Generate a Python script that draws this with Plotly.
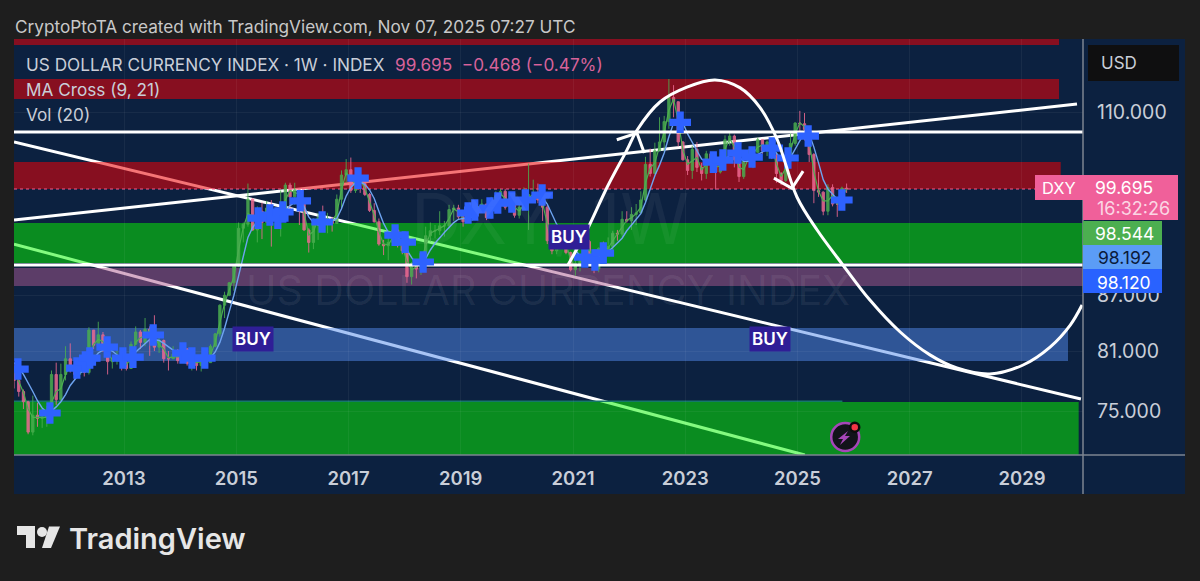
import math
import plotly.graph_objects as go

# ---------- data ----------
years = list(range(2011, 2026))
highs = [
 79.8,78.3,77.1,76.0,76.5,75.8,75.2,75.5,79.0,79.8,79.7,81.5,
 81.8,79.5,80.6,79.9,83.5,83.0,84.1,83.0,81.5,80.4,81.5,80.8,
 80.3,82.0,83.6,83.2,84.5,83.6,84.8,82.5,82.2,81.0,81.5,81.2,
 81.5,81.3,80.6,80.5,80.7,81.0,81.7,82.9,86.0,87.4,88.5,90.5,
 95.5,95.5,100.4,98.5,97.5,98.0,98.2,98.3,96.7,99.5,100.5,100.5,
 100.5,99.8,98.5,94.8,96.0,96.7,97.6,96.7,96.2,99.0,102.1,103.6,
 103.8,102.2,102.3,100.9,99.2,97.9,96.0,93.4,93.7,95.1,95.1,94.0,
 92.3,90.8,91.1,91.9,95.0,95.5,95.2,96.9,95.7,97.7,97.7,97.7,
 96.9,97.2,97.7,98.3,98.4,97.8,98.7,99.4,99.7,99.7,98.5,98.5,
 98.2,99.9,103.0,100.9,100.4,97.8,97.7,93.9,94.7,94.7,94.3,92.0,
 91.6,91.4,93.4,93.4,90.9,92.5,93.2,93.7,94.5,94.6,96.9,96.9,
 97.4,97.8,99.4,103.9,105.0,105.8,109.3,109.5,114.8,113.9,111.2,106.0,
 104.0,105.4,105.9,103.1,104.7,104.5,102.8,104.4,106.8,107.3,106.9,104.3,
 103.8,104.9,104.7,106.5,105.8,106.1,105.0,104.4,101.9,104.6,107.1,108.6,
 110.2,109.9,107.4,104.4,101.9,99.4,100.3,100.3,98.7,100.0,100.4]
lows = [
 77.2,76.4,75.2,72.8,72.7,73.5,73.4,73.5,74.0,75.6,76.0,78.0,
 78.8,78.1,78.8,78.4,78.6,81.2,81.6,80.9,78.6,79.2,79.6,79.0,
 79.0,79.3,81.7,81.2,81.5,80.5,81.0,80.8,79.8,79.0,80.2,79.7,
 79.9,79.5,79.0,79.0,78.9,80.0,80.0,81.4,82.5,84.5,86.9,87.5,
 90.2,93.1,95.0,94.5,93.1,93.5,95.5,92.6,95.0,93.8,96.9,97.0,
 97.7,95.2,94.5,91.9,92.3,93.4,95.3,94.2,94.4,95.4,97.2,100.5,
 99.2,99.2,99.2,98.8,96.8,95.5,92.7,91.6,91.0,92.7,92.5,91.7,
 88.4,88.2,88.9,89.3,91.7,93.2,93.6,94.0,93.8,94.8,95.7,95.8,
 95.0,95.5,95.7,96.7,97.0,95.8,96.0,97.2,98.0,97.1,97.1,96.1,
 96.0,97.8,94.6,98.8,97.9,95.7,92.9,91.7,91.7,92.5,91.7,89.7,
 89.2,89.7,90.6,90.9,89.5,89.6,91.8,92.0,91.9,93.3,93.8,95.5,
 94.6,95.2,97.0,98.0,101.3,101.6,104.7,104.6,107.7,109.3,105.3,103.4,
 101.5,101.0,101.9,100.8,101.0,101.9,99.6,101.7,103.3,105.4,102.5,100.6,
 101.0,103.4,102.4,104.5,104.3,104.0,103.6,100.5,100.2,100.6,103.4,105.4,
 107.2,106.1,103.2,97.9,98.7,96.4,96.4,97.5,96.2,97.5,99.2]
closes = [
 78.0,76.9,75.9,73.0,74.6,74.3,74.4,74.6,78.6,76.1,78.6,80.2,
 79.3,78.6,79.0,78.8,83.2,81.6,82.7,81.2,79.9,80.1,80.1,79.8,
 79.2,81.7,83.0,81.9,83.3,83.1,81.4,82.1,80.2,80.2,80.7,80.0,
 81.2,79.7,80.1,79.5,80.4,79.8,81.5,82.8,85.9,87.0,88.4,90.3,
 94.8,95.3,98.4,94.6,96.9,95.5,97.3,96.0,96.3,97.0,100.2,98.7,
 99.6,98.2,94.6,93.1,95.9,96.1,95.5,96.0,95.4,98.4,101.5,102.2,
 99.5,101.1,100.4,99.0,97.0,95.6,92.9,92.7,93.1,94.6,93.0,92.1,
 89.1,90.6,89.97,91.8,93.9,94.5,94.5,95.1,95.1,97.1,97.3,96.2,
 95.6,96.2,97.3,97.5,97.8,96.1,98.5,98.9,99.4,97.4,98.3,96.4,
 97.4,98.1,99.0,99.0,98.3,97.4,93.3,92.1,93.9,94.0,91.9,89.9,
 90.6,90.9,93.2,91.3,90.0,92.4,92.2,92.6,94.2,94.1,95.9,95.7,
 96.5,96.7,98.3,102.9,101.7,104.7,105.9,108.7,112.1,111.5,105.9,103.5,
 102.1,104.9,102.5,101.7,104.3,102.9,101.9,103.6,106.2,106.7,103.5,101.3,
 103.3,104.2,104.5,106.2,104.7,105.9,104.1,101.7,100.8,104.0,105.7,108.5,
 108.4,107.6,104.2,99.5,99.3,96.9,99.9,97.8,97.8,99.8,99.695]
first_open = 79.4
ma_fast = [
 79.0,77.8,76.8,75.2,74.4,74.4,74.4,74.4,75.8,76.9,77.2,78.6,
 79.5,79.3,78.9,78.9,80.0,81.7,82.2,82.0,80.8,80.1,80.0,80.0,
 79.6,80.2,81.9,82.4,82.6,83.2,82.4,81.7,81.2,80.3,80.4,80.4,
 80.5,80.6,80.0,79.8,79.9,80.1,80.6,81.9,84.0,86.1,87.6,89.1,
 92.2,94.9,96.6,96.3,95.8,96.2,96.5,96.5,96.1,96.5,98.3,99.5,
 99.2,99.0,96.7,94.0,94.4,95.9,95.9,95.7,95.7,96.6,99.6,101.8,
 101.1,100.3,100.8,99.8,98.1,96.4,94.4,92.9,92.8,93.7,93.9,92.7,
 90.8,89.9,90.2,90.8,92.7,94.2,94.5,94.8,95.1,96.0,97.2,96.8,
 96.0,95.9,96.7,97.4,97.6,97.0,97.2,98.6,99.1,98.5,97.8,97.4,
 96.9,97.7,98.6,99.0,98.7,97.9,95.5,92.8,92.9,93.9,93.0,91.0,
 90.2,90.7,91.9,92.3,90.8,91.1,92.3,92.4,93.3,94.1,95.0,95.8,
 96.1,96.6,97.4,100.5,102.4,103.1,105.3,107.2,110.3,111.9,108.8,104.8,
 102.9,103.4,103.8,102.2,102.9,103.6,102.5,102.7,104.9,106.4,105.2,102.5,
 102.2,103.7,104.3,105.2,105.5,105.2,105.2,103.0,101.3,102.4,104.7,107.0,
 108.5,108.0,106.0,101.9,99.4,98.2,98.2,98.9,97.8,98.6,99.7]
ma_slow = [
 79.8,79.3,78.6,77.8,76.9,76.0,75.3,74.9,75.0,75.4,75.9,76.6,
 77.5,78.1,78.7,79.0,79.7,80.2,80.8,81.1,81.2,81.0,80.6,80.2,
 80.0,80.3,80.9,81.3,81.8,82.2,82.2,82.1,81.8,81.4,81.1,80.8,
 80.7,80.6,80.4,80.3,80.2,80.1,80.3,80.9,81.9,83.4,85.2,87.0,
 89.2,91.6,93.7,94.9,95.6,95.8,96.0,96.2,96.2,96.3,96.9,97.6,
 98.0,98.2,97.5,96.2,95.5,95.2,95.5,95.7,95.7,96.0,97.2,98.8,
 99.9,100.5,100.6,100.3,99.6,98.5,96.9,95.4,94.3,93.8,93.6,93.2,
 92.2,91.3,90.6,90.5,91.2,92.2,93.0,93.7,94.3,94.9,95.5,95.9,
 96.0,96.0,96.2,96.6,97.0,97.1,97.3,97.7,98.1,98.3,98.3,98.1,
 97.9,97.8,98.2,98.6,98.7,98.6,97.8,96.5,95.3,94.6,94.0,93.2,
 92.2,91.5,91.3,91.5,91.5,91.3,91.6,92.0,92.5,93.0,93.6,94.5,
 95.2,95.8,96.6,98.0,99.8,101.4,102.8,104.4,106.6,108.5,109.1,108.5,
 107.0,105.8,104.8,103.6,103.2,103.2,103.0,102.9,103.4,104.2,104.4,103.9,
 103.3,103.3,103.6,104.2,104.6,104.9,105.0,104.4,103.5,103.2,103.8,104.9,
 106.2,107.2,107.0,105.2,103.1,100.9,99.7,99.0,98.4,98.2,98.1]

cross_years = [2011.11,2011.68,2012.16,2012.31,2012.39,2012.70,2012.98,2013.16,2013.52,2014.05,2014.21,2014.44,
 2015.39,2015.60,2015.74,2015.83,2016.14,2016.53,2017.17,2017.83,2018.01,2018.33,2019.13,2019.25,2019.52,2019.66,
 2019.91,2020.15,2020.45,2021.21,2021.39,2021.54,2022.91,2023.50,2023.67,2023.94,2024.19,2024.55,2024.83,2025.19,2025.79]
cross_prices = [79.15,74.81,79.25,79.86,80.27,81.41,80.27,80.37,82.68,80.79,80.27,80.27,
 96.05,96.43,96.05,96.8,98.2,95.57,101.1,93.98,93.14,90.79,96.68,97.05,97.3,97.92,
 98.05,98.3,98.93,91.37,91.02,91.84,108.6,103.2,103.47,104.4,103.87,105.07,103.74,106.7,98.3]

arc_years = [2020.91,2021.25,2021.61,2021.96,2022.14,2022.55,2023.03,2023.53,2023.98,2024.33,2024.64,
 2024.99,2025.35,2025.81,2026.29,2026.83,2027.36,2027.84,2028.43,2029.02,2029.50,2029.86,2030.07]
arc_prices = [90.44,94.59,99.95,104.8,107.5,111.46,113.6,114.65,113.5,110.7,106.2,
 98.68,94.59,90.44,86.47,83.0,80.6,79.25,78.64,79.56,81.41,83.74,85.92]
arrow_up_years = [2021.78,2022.14,2022.27]
arrow_up_prices = [106.2,107.1,104.4]
arrow_down_years = [2024.58,2024.90,2025.10]
arrow_down_prices = [101.1,99.8,102.0]

x_min, x_max = 2011.04, 2030.087
y_min, y_max = 70.89, 120.84
hlines = [107.25, 90.44]
# (x_end, low, high, colour)
zones = [
 (2029.66, 119.9, 121.5, "rgba(237,2,5,0.55)"),
 (2029.66, 111.9, 114.8, "rgba(237,2,5,0.55)"),
 (2029.69, 99.7, 103.2, "rgba(237,2,5,0.55)"),
 (2030.087, 90.67, 95.45, "rgba(8,248,0,0.5)"),
 (2030.087, 88.03, 90.09, "rgba(172,90,144,0.5)"),
 (2029.82, 79.97, 83.42, "rgba(82,138,236,0.5)"),
 (2030.01, 70.5, 75.87, "rgba(8,248,0,0.5)"),
]
teal_level = 75.95
teal_end = 2025.8
# (x0, p0, x1, p1)
trendlines = [
 (2011.04, 95.8, 2029.98, 111.17),
 (2011.04, 105.9, 2030.05, 76.16),
 (2011.04, 92.9, 2025.13, 70.89),
]
buy_labels = [(2015.30, 82.25), (2020.93, 93.75), (2024.51, 82.25)]
y_ticks = [75, 81, 87, 110]
last_price = 99.695
tick_years = list(range(2013, 2030, 2))

# ---------- helpers for page furniture (paper coordinates) ----------
L, R, T, B = 14, 1083, 39, 455
X = lambda px: (px - L) / (R - L)
Y = lambda py: (B - py) / (B - T)
NAVY = "#0c2140"
TXT = "#c9ced8"
FONT = "Inter"

months = [y + (m + 0.5) / 12 for y in years for m in range(12)][:len(closes)]
opens = [first_open] + closes[:-1]

fig = go.Figure()
fig.add_trace(go.Candlestick(x=months, open=opens, high=highs, low=lows, close=closes,
    increasing=dict(line=dict(color="#4caf50", width=1), fillcolor="#4caf50"),
    decreasing=dict(line=dict(color="#ef6a92", width=1), fillcolor="#ef6a92"),
    whiskerwidth=0, opacity=0.85, showlegend=False))
fig.add_trace(go.Scatter(x=months, y=ma_fast, mode="lines", line=dict(color="#4caf50", width=1.2), showlegend=False))
fig.add_trace(go.Scatter(x=months, y=ma_slow, mode="lines", line=dict(color="#6ea4f0", width=1.4), showlegend=False))
for h in hlines:
    fig.add_trace(go.Scatter(x=[x_min, x_max], y=[h, h], mode="lines", line=dict(color="#ffffff", width=3), showlegend=False))
fig.add_trace(go.Scatter(x=cross_years, y=cross_prices, mode="markers",
    marker=dict(symbol="cross", size=18, color="#2e62ff", line=dict(width=0)), showlegend=False))
fig.add_trace(go.Scatter(x=arc_years, y=arc_prices, mode="lines", line=dict(color="#ffffff", width=3, shape="spline", smoothing=1.0), showlegend=False))
for ax_, ay_ in ((arrow_up_years, arrow_up_prices), (arrow_down_years, arrow_down_prices)):
    fig.add_trace(go.Scatter(x=ax_, y=ay_, mode="lines", line=dict(color="#ffffff", width=3), showlegend=False))
fig.add_trace(go.Scatter(x=[2025.85], y=[72.54], mode="markers",
    marker=dict(size=28, color="#12131a", line=dict(color="#a646b8", width=2.5)), showlegend=False))
fig.add_trace(go.Scatter(x=[2026.02], y=[73.46], mode="markers",
    marker=dict(size=9, color="#f23645", line=dict(color="#0c0c0c", width=2.5)), showlegend=False))

shapes = []
shapes.append(dict(type="rect", xref="paper", yref="paper", x0=X(14), x1=X(1185), y0=Y(494), y1=Y(39),
                   fillcolor=NAVY, line=dict(width=0), layer="below"))
for (x0, p0, x1, p1) in trendlines:
    shapes.append(dict(type="line", xref="x", yref="y", x0=x0, x1=x1, y0=p0, y1=p1,
                       line=dict(color="#ffffff", width=3), layer="below"))
for (xe, lo, hi, c) in zones:
    shapes.append(dict(type="rect", xref="x", yref="y", x0=x_min, x1=xe, y0=lo, y1=hi,
                       fillcolor=c, line=dict(width=0), layer="below"))
shapes.append(dict(type="line", xref="x", yref="y", x0=x_min, x1=teal_end, y0=teal_level, y1=teal_level,
                   line=dict(color="#14786a", width=1.5), layer="below"))
shapes.append(dict(type="line", xref="x", yref="y", x0=x_min, x1=x_max, y0=last_price, y1=last_price,
                   line=dict(color="#f0608f", width=1, dash="dot"), layer="below"))
shapes.append(dict(type="line", xref="paper", yref="paper", x0=X(1083), x1=X(1083), y0=Y(494), y1=Y(39),
                   line=dict(color="#7d8490", width=1.5), layer="above"))
shapes.append(dict(type="line", xref="paper", yref="paper", x0=X(14), x1=X(1185), y0=Y(455), y1=Y(455),
                   line=dict(color="#7d8490", width=1.5), layer="above"))
def box(x0, x1, y0, y1, color):
    shapes.append(dict(type="rect", xref="paper", yref="paper", x0=X(x0), x1=X(x1), y0=Y(y1), y1=Y(y0),
                       fillcolor=color, line=dict(width=0), layer="above"))
box(1088, 1179, 45, 81, "#0f0f10")
box(1035, 1083, 175, 200, "#f0609a")
box(1083, 1178, 175, 220, "#f0609a")
box(1083, 1162, 221, 245, "#4caf50")
box(1083, 1162, 245, 269, "#5b9cf6")
box(1083, 1162, 269, 293, "#2962ff")

def poly(points, color):
    d = "M " + " L ".join(f"{X(a):.5f},{Y(b):.5f}" for a, b in points) + " Z"
    shapes.append(dict(type="path", xref="paper", yref="paper", path=d, fillcolor=color, line=dict(width=0), layer="above"))
poly([(848,431),(838,439),(843,439),(840,445),(850,436),(845,436)], "#a646b8")
poly([(17,526),(35,526),(35,548),(26,548),(26,535),(17,535)], "#e6e6e6")
poly([(49,526.5),(60,526.5),(51,548),(42,548)], "#e6e6e6")
shapes.append(dict(type="circle", xref="paper", yref="paper", x0=X(37), x1=X(47), y0=Y(537), y1=Y(527),
                   fillcolor="#e6e6e6", line=dict(width=0), layer="above"))

ann = []
def text(px, py, s, size=16, color=TXT, anchor="left", weight=400):
    ann.append(dict(xref="paper", yref="paper", x=X(px), y=Y(py), text=s, showarrow=False,
                    xanchor=anchor, yanchor="middle", font=dict(family=FONT, size=size, color=color, weight=weight)))
text(13, 26, "CryptoPtoTA created with TradingView.com, Nov 07, 2025 07:27 UTC", 17.2, "#c8c8c8")
text(24, 64, "US DOLLAR CURRENCY INDEX · 1W · INDEX", 17.2)
text(393, 64, "99.695  −0.468 (−0.47%)", 17.2, "#d8639a")
text(24, 89, "MA Cross (9, 21)", 17.2)
text(24, 114, "Vol (20)", 17.2)
text(1099, 63, "USD", 17)
text(1059, 188, "DXY", 16.5, "#ffffff", "center")
text(1124, 188, "99.695", 17.5, "#ffffff", "center")
text(1133, 208, "16:32:26", 18, "#fbd6e4", "center")
text(1124, 233, "98.544", 17.5, "#ffffff", "center")
text(1124, 257, "98.192", 17.5, "#0b1a3a", "center")
text(1124, 282, "98.120", 17.5, "#ffffff", "center")
text(67, 538, "TradingView", 29, "#e6e6e6", "left", 600)
text(550, 218, "DXY, 1W", 70, "rgba(255,255,255,0.05)", "center")
text(548, 290, "US DOLLAR CURRENCY INDEX", 41, "rgba(255,255,255,0.07)", "center")
for bx, bp in buy_labels:
    ann.append(dict(xref="x", yref="y", x=bx, y=math.log10(bp), text="BUY", showarrow=False,
                    bgcolor="#2f1e96", borderpad=2, font=dict(family=FONT, size=17, color="#ffffff", weight=600)))

fig.update_layout(
    width=1200, height=581, margin=dict(l=L, r=1200 - R, t=T, b=581 - B),
    paper_bgcolor="#1e1e1e", plot_bgcolor=NAVY, showlegend=False,
    shapes=shapes, annotations=ann, hovermode=False,
    xaxis=dict(range=[x_min, x_max], tickmode="array", tickvals=tick_years, ticktext=[str(t) for t in tick_years],
               showgrid=True, gridcolor="rgba(255,255,255,0.05)", zeroline=False, showline=False, ticks="",
               rangeslider=dict(visible=False), ticklabelstandoff=10,
               tickfont=dict(family=FONT, size=18.5, color=TXT, weight=600)),
    yaxis=dict(type="log", range=[math.log10(y_min), math.log10(y_max)], side="right",
               tickmode="array", tickvals=y_ticks, ticktext=[f"{t:.3f}" for t in y_ticks],
               showgrid=True, gridcolor="rgba(255,255,255,0.05)", zeroline=False, showline=False, ticks="",
               ticklabelstandoff=13, tickfont=dict(family=FONT, size=19.5, color=TXT)),
)
fig.write_html("out.html", config=dict(displayModeBar=False), post_script="document.body.style.margin='0';")
